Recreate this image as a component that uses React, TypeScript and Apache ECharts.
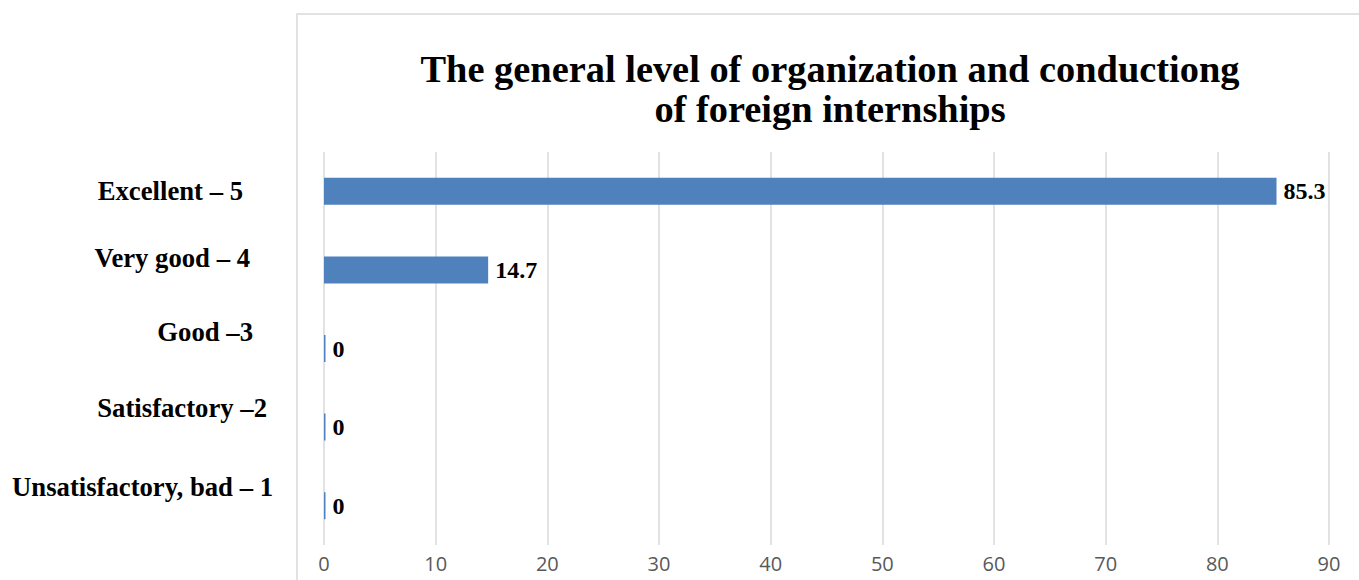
import React, { useEffect, useRef } from "react";
import * as echarts from "echarts";

const titleLines = ["The general level of organization and conductiong", "of foreign internships"];
const categories = ["Excellent – 5", "Very good – 4", "Good –3", "Satisfactory –2", "Unsatisfactory, bad – 1"];
const values = [85.3, 14.7, 0, 0, 0];
const valueTicks = { min: 0, max: 90, interval: 10 };
// per-label nudges (right padding, upward shift) to mimic the original label placement
const labelRightPad = [81, 74, 71, 57, 51];
const labelUpShift = [0, 12, 17, 19, 19];

export default function App() {
  const ref = useRef<HTMLDivElement>(null);
  useEffect(() => {
    if (!ref.current) return;
    const chart = echarts.init(ref.current, null, { renderer: "svg" });
    const serif = "'Liberation Serif', 'Times New Roman', serif";
    chart.setOption({
      animation: false,
      backgroundColor: "#ffffff",
      title: {
        text: titleLines.join("\n"),
        left: 825,
        top: 44,
        textAlign: "center",
        textStyle: {
          fontFamily: serif,
          fontWeight: "bold",
          fontSize: 38.4,
          lineHeight: 40,
          color: "#000000",
        },
      },
      graphic: [
        {
          type: "rect",
          shape: { x: 297, y: 14, width: 1400, height: 900 },
          style: { fill: "none", stroke: "#d9d9d9", lineWidth: 1.5 },
          silent: true,
          z: -10,
        },
      ],
      grid: { left: 324, right: 30, top: 152, bottom: 35, containLabel: false },
      xAxis: {
        type: "value",
        min: valueTicks.min,
        max: valueTicks.max,
        interval: valueTicks.interval,
        axisLine: { show: false },
        axisTick: { show: false },
        splitLine: { show: true, lineStyle: { color: "#d9d9d9", width: 1.5 } },
        axisLabel: {
          color: "#595959",
          fontFamily: "'Open Sans', 'Noto Sans', sans-serif",
          fontSize: 20,
          margin: 8,
        },
      },
      yAxis: {
        type: "category",
        inverse: true,
        data: categories.map((c, i) => ({
          value: c,
          textStyle:
            labelUpShift[i] > 0
              ? {
                  padding: [0, labelRightPad[i], 0, 0],
                  verticalAlign: "bottom",
                  lineHeight: labelUpShift[i] * 2,
                }
              : { padding: [0, labelRightPad[i], 0, 0] },
        })),
        axisLine: { show: false },
        axisTick: { show: false },
        splitLine: { show: false },
        axisLabel: {
          margin: 0,
          color: "#000000",
          fontFamily: serif,
          fontWeight: "bold",
          fontSize: 26.7,
        },
      },
      series: [
        {
          type: "bar",
          data: values,
          barWidth: 27,
          barMinHeight: 1.5,
          itemStyle: { color: "#4f81bd" },
          label: {
            show: true,
            position: "right",
            distance: 7,
            color: "#000000",
            fontFamily: serif,
            fontWeight: "bold",
            fontSize: 24,
            formatter: (p: any) => String(p.value),
          },
        },
      ],
    });
    return () => chart.dispose();
  }, []);
  return (
    <div
      ref={ref}
      style={{ position: "fixed", left: 0, top: 0, width: 1359, height: 580 }}
    />
  );
}
